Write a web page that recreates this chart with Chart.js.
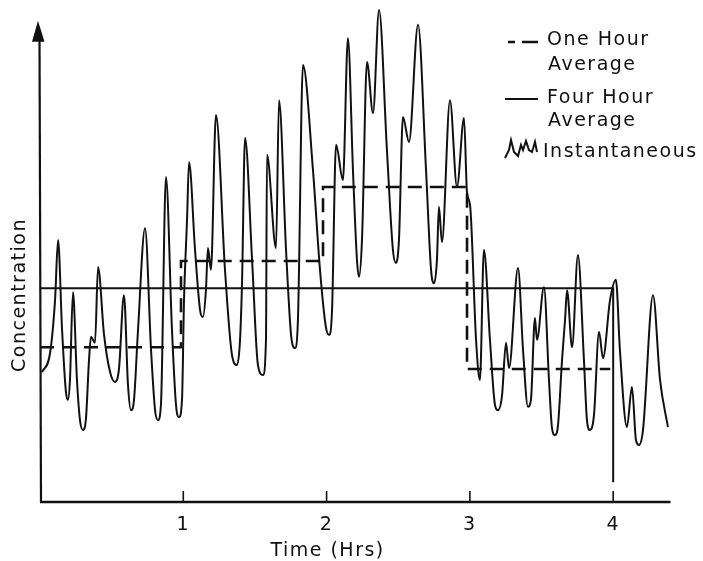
<!DOCTYPE html>
<html>
<head>
<meta charset="utf-8">
<title>Concentration vs Time</title>
<script src="https://cdn.jsdelivr.net/npm/chart.js@4.4.0/dist/chart.umd.min.js"></script>
<style>
  html, body { margin: 0; padding: 0; background: #fff; }
  #wrap { width: 703px; height: 561px; }
</style>
</head>
<body>
<div id="wrap"><canvas id="chart" width="703" height="561"></canvas></div>
<script>
// ===== Data (concentration in arbitrary units 0-100) =====
const instTime = [
  0.014, 0.070, 0.105, 0.126, 0.154, 0.181, 0.195, 0.209, 0.230, 0.258,
  0.279, 0.300, 0.321, 0.342, 0.356, 0.384, 0.405, 0.447, 0.489, 0.523,
  0.551, 0.586, 0.614, 0.635, 0.656, 0.684, 0.733, 0.775, 0.803, 0.823,
  0.844, 0.879, 0.921, 0.949, 0.970, 0.991, 1.005, 1.026, 1.040, 1.082,
  1.117, 1.137, 1.158, 1.172, 1.193, 1.228, 1.291, 1.340, 1.375, 1.396,
  1.410, 1.431, 1.480, 1.521, 1.556, 1.577, 1.584, 1.647, 1.668, 1.717,
  1.752, 1.779, 1.800, 1.835, 1.905, 1.954, 1.996, 2.017, 2.038, 2.066,
  2.114, 2.149, 2.184, 2.212, 2.226, 2.247, 2.282, 2.324, 2.366, 2.421,
  2.463, 2.484, 2.505, 2.533, 2.575, 2.638, 2.694, 2.729, 2.750, 2.770,
  2.784, 2.805, 2.861, 2.910, 2.959, 2.980, 3.001, 3.043, 3.070, 3.098,
  3.140, 3.175, 3.196, 3.224, 3.252, 3.273, 3.336, 3.371, 3.405, 3.426,
  3.454, 3.468, 3.517, 3.552, 3.573, 3.594, 3.615, 3.643, 3.664, 3.678,
  3.713, 3.754, 3.796, 3.817, 3.838, 3.866, 3.901, 3.929, 3.978, 4.019,
  4.047, 4.096, 4.131, 4.159, 4.180, 4.208, 4.278, 4.327, 4.382
];
const instConc = [
  26.0, 29.8, 40.5, 52.6, 34.5, 22.0, 20.4, 24.4, 42.1, 24.4,
  16.3, 14.3, 16.7, 28.4, 33.1, 31.9, 47.2, 33.5, 26.0, 24.0,
  26.6, 41.5, 23.4, 18.3, 20.4, 34.5, 55.0, 30.4, 18.3, 16.3,
  19.4, 65.3, 34.5, 19.4, 16.9, 20.4, 40.5, 56.6, 68.3, 50.6,
  38.5, 37.1, 42.5, 51.0, 46.6, 77.8, 46.6, 29.4, 27.4, 32.5,
  44.2, 73.2, 48.6, 27.4, 25.4, 32.5, 69.8, 51.0, 80.8, 50.6,
  33.5, 30.8, 36.5, 87.9, 66.7, 46.6, 34.9, 33.5, 38.5, 71.8,
  64.7, 93.3, 66.7, 48.6, 45.2, 52.6, 88.5, 78.2, 99.0, 70.8,
  50.6, 48.0, 52.6, 77.4, 72.4, 96.0, 66.7, 46.6, 43.9, 48.6,
  59.3, 52.2, 80.8, 63.3, 77.2, 62.1, 59.7, 32.5, 24.4, 50.6,
  32.5, 19.4, 18.3, 21.2, 31.9, 26.8, 47.0, 30.4, 19.0, 20.4,
  36.9, 32.5, 43.1, 24.4, 14.7, 13.3, 15.3, 28.4, 36.5, 42.5,
  31.0, 49.6, 28.4, 16.3, 14.3, 17.3, 34.1, 28.8, 40.5, 44.6,
  30.4, 14.9, 23.0, 12.3, 11.3, 14.3, 41.5, 24.4, 14.9
];
const oneHourTime = [0, 0.984, 1.975, 2.98, 3.98];
const oneHourConc = [31.0, 48.4, 63.3, 26.6, 26.6];
const fourHourTime = [0, 4.0];
const fourHourConc = [42.9, 3.8];
const tickHours = [1, 2, 3, 4];
const tickLabels = ['1', '2', '3', '4'];
const legendNames = [['One Hour', 'Average'], ['Four Hour', 'Average'], ['Instantaneous']];
const xTitle = 'Time (Hrs)';
const yTitle = 'Concentration';

const INK = '#111';
const FONT = '"DejaVu Sans", "Liberation Sans", sans-serif';

function toPoints(xs, ys) {
  return xs.map((t, i) => ({ x: t, y: ys[i] }));
}

// ===== Axes, arrow, labels and legend drawn on top of the scales =====
const decorPlugin = {
  id: 'decor',
  afterDraw(chart) {
    const { ctx, scales: { x, y } } = chart;
    const x0 = x.getPixelForValue(0);
    const y0 = y.getPixelForValue(0);
    ctx.save();
    ctx.strokeStyle = INK;
    ctx.fillStyle = INK;

    // x axis
    ctx.lineWidth = 2.5;
    ctx.beginPath();
    ctx.moveTo(x0, y0 + 1);
    ctx.lineTo(x.getPixelForValue(4.4), y0 + 1);
    ctx.stroke();

    // tick marks pointing up
    ctx.lineWidth = 1.6;
    tickHours.forEach(h => {
      const px = x.getPixelForValue(h);
      ctx.beginPath();
      ctx.moveTo(px, y0);
      ctx.lineTo(px, y0 - 10);
      ctx.stroke();
    });

    // y axis with arrowhead
    const tipY = y.getPixelForValue(96.8);
    const ax = x0 + 1;
    ctx.lineWidth = 2.2;
    ctx.beginPath();
    ctx.moveTo(ax, y0 + 2);
    ctx.lineTo(ax - 1.5, tipY + 18);
    ctx.stroke();
    ctx.beginPath();
    ctx.moveTo(ax - 3, tipY);
    ctx.lineTo(ax - 9, tipY + 21);
    ctx.lineTo(ax + 3.5, tipY + 21);
    ctx.closePath();
    ctx.fill();

    // text
    ctx.letterSpacing = '1.5px';
    ctx.font = '19px ' + FONT;
    ctx.textAlign = 'center';
    ctx.textBaseline = 'alphabetic';
    tickHours.forEach((h, i) => {
      ctx.fillText(tickLabels[i], x.getPixelForValue(h), y0 + 29);
    });
    ctx.fillText(xTitle, x.getPixelForValue(2) + 1, y0 + 55);

    ctx.save();
    ctx.translate(25, 295);
    ctx.rotate(-Math.PI / 2);
    ctx.fillText(yTitle, 0, 0);
    ctx.restore();

    // legend
    ctx.textAlign = 'left';
    ctx.lineWidth = 2.6;
    ctx.beginPath();
    ctx.moveTo(508, 42); ctx.lineTo(515, 42);
    ctx.moveTo(522, 42); ctx.lineTo(538, 42);
    ctx.stroke();
    ctx.fillText(legendNames[0][0], 547, 45);
    ctx.fillText(legendNames[0][1], 548, 70);

    ctx.lineWidth = 1.8;
    ctx.beginPath();
    ctx.moveTo(505, 99); ctx.lineTo(538, 99);
    ctx.stroke();
    ctx.fillText(legendNames[1][0], 547, 103);
    ctx.fillText(legendNames[1][1], 548, 126);

    ctx.lineWidth = 2;
    ctx.beginPath();
    ctx.moveTo(505, 158);
    ctx.lineTo(509, 150);
    ctx.lineTo(511, 140);
    ctx.lineTo(514, 152);
    ctx.lineTo(518, 156);
    ctx.lineTo(521, 145);
    ctx.lineTo(523, 150);
    ctx.lineTo(526, 141);
    ctx.lineTo(529, 150);
    ctx.lineTo(532, 152);
    ctx.lineTo(535, 142);
    ctx.lineTo(537, 152);
    ctx.stroke();
    ctx.fillText(legendNames[2][0], 543, 157);

    ctx.restore();
  }
};

const ctx = document.getElementById('chart').getContext('2d');
new Chart(ctx, {
  type: 'line',
  data: {
    datasets: [
      {
        label: 'Instantaneous',
        data: toPoints(instTime, instConc),
        borderColor: INK,
        borderWidth: 2,
        pointRadius: 0,
        cubicInterpolationMode: 'monotone',
        fill: false
      },
      {
        label: 'One Hour Average',
        data: toPoints(oneHourTime, oneHourConc),
        borderColor: INK,
        borderWidth: 2.6,
        borderDash: [14, 8],
        stepped: 'before',
        pointRadius: 0,
        fill: false
      },
      {
        label: 'Four Hour Average',
        data: toPoints(fourHourTime, fourHourConc),
        borderColor: INK,
        borderWidth: 2,
        stepped: 'before',
        pointRadius: 0,
        fill: false
      }
    ]
  },
  options: {
    responsive: false,
    animation: false,
    devicePixelRatio: 1,
    layout: { padding: { left: 40, right: 32.5, top: 5, bottom: 60 } },
    scales: {
      x: { type: 'linear', min: 0, max: 4.4, display: false },
      y: { type: 'linear', min: 0, max: 100, display: false }
    },
    plugins: {
      legend: { display: false },
      tooltip: { enabled: false }
    },
    clip: false
  },
  plugins: [decorPlugin]
});
</script>
</body>
</html>
